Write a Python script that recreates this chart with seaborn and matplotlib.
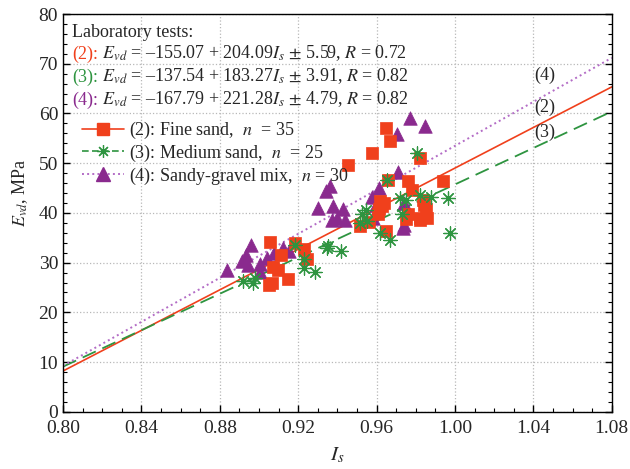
import numpy as np
import pandas as pd
import matplotlib
matplotlib.use("Agg")
import matplotlib.pyplot as plt
from matplotlib.lines import Line2D
import seaborn as sns

# ===============================
# Data
# ===============================

# (2) fine sand
fine_is = [0.9056, 0.907, 0.9098, 0.9065, 0.905, 0.915, 0.9184, 0.923, 0.9247, 0.9515,
           0.956, 0.961, 0.9617, 0.964, 0.965, 0.976, 0.982, 0.9855, 0.9838, 0.985,
           0.965, 0.967, 0.9575, 0.9455, 0.982, 0.976, 0.978, 0.9937, 0.966, 0.911,
           0.982, 0.984, 0.963, 0.975, 0.9605]
fine_evd = [34.2, 29.2, 28.6, 25.9, 25.5, 26.7, 34.0, 32.7, 30.7, 37.3,
            38.1, 40.7, 42.3, 42.0, 36.3, 39.7, 39.0, 39.0, 42.7, 40.7,
            57.0, 54.4, 52.0, 49.7, 51.1, 46.4, 44.7, 46.4, 46.7, 31.5,
            38.5, 41.5, 41.3, 38.8, 39.8]

# (3) medium sand
medium_is = [0.892, 0.8968, 0.9184, 0.923, 0.923, 0.9286, 0.9345, 0.942, 0.9524, 0.955,
             0.9617, 0.9668, 0.9728, 0.972, 0.982, 0.988, 0.9966, 0.9974, 0.9807, 0.9655,
             0.9545, 0.975, 0.935, 0.898, 0.9515]
medium_evd = [26.4, 25.9, 33.6, 30.7, 28.9, 28.2, 32.9, 32.3, 39.7, 38.3,
              36.0, 34.6, 39.7, 43.0, 43.7, 43.3, 43.0, 36.0, 52.1, 46.7,
              40.5, 42.5, 33.3, 27.0, 38.0]

# (4) sandy-gravel mix
gravel_is = [0.8838, 0.8915, 0.8932, 0.8958, 0.9005, 0.9005, 0.9039, 0.9077, 0.9124, 0.9155,
             0.9303, 0.9379, 0.9427, 0.9371, 0.9396, 0.9439, 0.958, 0.974, 0.974, 0.977,
             0.9847, 0.9703, 0.971, 0.961, 0.9575, 0.936, 0.934, 0.9595, 0.9735, 0.8945]
gravel_evd = [28.6, 30.4, 31.6, 33.6, 29.8, 28.2, 30.9, 31.9, 32.9, 32.3,
              41.0, 41.3, 40.7, 38.6, 39.0, 38.6, 39.0, 42.0, 37.6, 59.0,
              57.5, 55.8, 48.2, 45.0, 43.3, 45.4, 44.5, 41.5, 37.0, 29.5]

# regression coefficients printed on the chart
intercepts = [-155.07, -137.54, -167.79]
slopes = [204.09, 183.27, 221.28]
line_x = [0.80, 1.08]

red = "#f0401c"
green = "#2e9440"
purple = "#8a2a8e"
purple_line = "#b36cc6"

# ===============================
# Style
# ===============================

sns.set_theme(style="ticks")
plt.rcParams["font.serif"] = ["Liberation Serif", "DejaVu Serif"]
plt.rcParams["font.family"] = "serif"
plt.rcParams["mathtext.fontset"] = "stix"
plt.rcParams["font.size"] = 12.5

fig, ax = plt.subplots(figsize=(6.3, 4.69), dpi=100)
fig.subplots_adjust(left=0.1, right=0.971, top=0.970, bottom=0.122)

# ===============================
# Regression lines
# ===============================

styles = [(red, "-", 1.2), (green, (0, (8, 4)), 1.3), (purple_line, ":", 1.4)]
for b0, b1, (c, ls, lw) in zip(intercepts, slopes, styles):
    ys = [b0 + b1 * x for x in line_x]
    sns.lineplot(x=line_x, y=ys, ax=ax, color=c, linestyle=ls, linewidth=lw, zorder=2)

# ===============================
# Scatter points
# ===============================

sns.scatterplot(x=gravel_is, y=gravel_evd, ax=ax, marker="^", s=95, color=purple,
                edgecolor=purple, linewidth=0.5, zorder=3)
sns.scatterplot(x=fine_is, y=fine_evd, ax=ax, marker="s", s=80, color=red,
                edgecolor=red, linewidth=0.5, zorder=4)
sns.scatterplot(x=medium_is, y=medium_evd, ax=ax, marker=(8, 2, 0), s=90, color=green,
                edgecolor=green, linewidth=0.9, zorder=5)

# ===============================
# Axes
# ===============================

ax.set_xlim(0.80, 1.08)
ax.set_ylim(0, 80)
ax.set_xticks(np.arange(0.80, 1.081, 0.04))
ax.set_xticklabels(["0.80", "0.84", "0.88", "0.92", "0.96", "1.00", "1.04", "1.08"])
ax.set_xticks(np.arange(0.80, 1.081, 0.01), minor=True)
ax.set_yticks(np.arange(0, 81, 10))
ax.set_yticks(np.arange(0, 81, 2), minor=True)
ax.tick_params(which="both", direction="in", right=True, top=False, color="black")
ax.tick_params(which="major", length=5, width=1.0, labelsize=14)
ax.tick_params(axis="x", which="major", pad=6)
ax.tick_params(which="minor", length=3, width=0.8)
ax.grid(True, which="major", linestyle=":", color="#b8b8b8", linewidth=0.9)
for sp in ax.spines.values():
    sp.set_color("black")
    sp.set_linewidth(1.0)

ax.set_xlabel("$I_s$", fontsize=15, labelpad=6)
ax.set_ylabel("$E_{vd}$, MPa", fontsize=13, labelpad=4)
ax.yaxis.set_label_coords(-0.06, 0.55)

# ===============================
# Equations block
# ===============================

fs = 13
ax.text(0.016, 0.942, "Laboratory tests:", transform=ax.transAxes, fontsize=fs, va="baseline")
eqs = [
    ("(2):", red, " $E_{vd}$ = \u2013155.07 + 204.09$I_s$ $\\pm$ 5.59, $R$ = 0.72", 0.887),
    ("(3):", green, " $E_{vd}$ = \u2013137.54 + 183.27$I_s$ $\\pm$ 3.91, $R$ = 0.82", 0.830),
    ("(4):", purple, " $E_{vd}$ = \u2013167.79 + 221.28$I_s$ $\\pm$ 4.79, $R$ = 0.82", 0.772),
]
for tag, c, rest, yy in eqs:
    t = ax.text(0.016, yy, tag, transform=ax.transAxes, fontsize=fs, color=c, va="baseline")
    ax.annotate(rest, xy=(1, 0), xycoords=t, fontsize=fs, va="bottom", ha="left")

# legend for the point series
handles = [
    Line2D([], [], color=red, linestyle="-", marker="s", markersize=9, linewidth=1.2),
    Line2D([], [], color=green, linestyle=(0, (4, 2)), marker=(8, 2, 0), markersize=9,
           linewidth=1.2, markeredgewidth=0.9),
    Line2D([], [], color=purple_line, linestyle=":", marker="^", markersize=10,
           markerfacecolor=purple, markeredgecolor=purple, linewidth=1.4),
]
labels = ["(2): Fine sand,  $n$  = 35", "(3): Medium sand,  $n$  = 25",
          "(4): Sandy-gravel mix,  $n$ = 30"]
ax.legend(handles, labels, loc="upper left", bbox_to_anchor=(0.012, 0.766), frameon=False,
          fontsize=fs, handlelength=2.3, handletextpad=0.3, labelspacing=0.1,
          borderpad=0.2, numpoints=1)

# line tags
for tag, x, y in [("(4)", 1.046, 67.6), ("(2)", 1.046, 61.2), ("(3)", 1.046, 56.2)]:
    ax.text(x, y, tag, fontsize=fs, ha="center", va="center")

plt.savefig("out.png", dpi=100)
